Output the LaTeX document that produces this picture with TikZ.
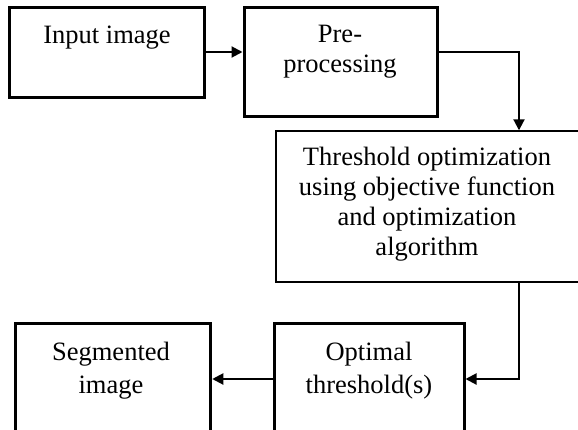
\documentclass[tikz,border=0pt]{standalone}
\usepackage{fontspec}
\setmainfont{Liberation Serif}
\usetikzlibrary{arrows.meta}
\begin{document}
\begin{tikzpicture}[x=1pt,y=-1pt,
  box/.style={draw, line width=3pt, inner sep=0pt},
  thinbox/.style={draw, line width=1.4pt, inner sep=0pt},
  txt/.style={align=center, font=\fontsize{26.5}{29.8}\selectfont, inner sep=0pt, anchor=base},
  txtwide/.style={txt, font=\fontsize{26.5}{33}\selectfont},
  link/.style={line width=2pt, -{Triangle[length=11pt,width=11pt]}},
]
\clip (0,0) rectangle (578,429);

% process boxes
\node[box, minimum width=195pt, minimum height=90pt] (inp) at (106.5,52) {};
\node[box, minimum width=193pt, minimum height=109pt] (pre) at (340.5,61.5) {};
\node[thinbox, minimum width=304pt, minimum height=151pt] (thr) at (428,206.5) {};
\node[box, minimum width=190pt, minimum height=112pt] (opt) at (369,379) {};
\node[box, minimum width=195pt, minimum height=112pt] (seg) at (113.25,379) {};

% box captions (base anchor = baseline of the last line)
\node[txt] (inptext) at (107,43) {Input image};
\node[txt] (pretext) at (340,72) {Pre-\\processing};
\node[txt] (thrtext) at (427,255) {Threshold optimization\\using objective function\\and optimization\\algorithm};
\node[txtwide] (opttext) at (369,393) {Optimal\\threshold(s)};
\node[txtwide] (segtext) at (111,393) {Segmented\\image};

% flow
\draw[link] (inp.east) -- (pre.west |- inp.east);
\draw[link] (pre.east |- inp.east) -| ([xshift=91pt]thr.north);
\draw[link] ([xshift=91pt]thr.south) |- (opt.east);
\draw[link] (opt.west) -- (seg.east);
\end{tikzpicture}
\end{document}
